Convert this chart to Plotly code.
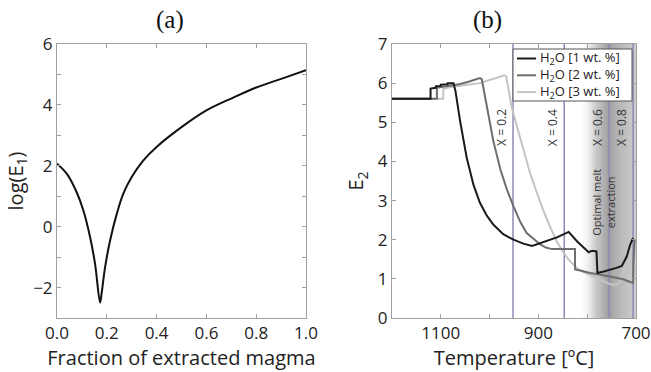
import plotly.graph_objects as go

# ---------------- data: panel (a) ----------------
frac_extracted = [0.0, 0.039, 0.079, 0.106, 0.133, 0.153, 0.173, 0.179, 0.193, 0.213, 0.24,
                  0.266, 0.3, 0.347, 0.4, 0.5, 0.6, 0.708, 0.8, 0.909, 1.0]
log_E1 = [2.07, 1.74, 1.13, 0.53, -0.35, -1.23, -2.49, -2.2, -1.34, -0.46, 0.42,
          1.08, 1.63, 2.18, 2.62, 3.27, 3.82, 4.24, 4.57, 4.88, 5.14]

# ---------------- data: panel (b) ----------------
temp_1wt = [1200, 1121, 1121, 1110, 1110, 1100, 1100, 1086, 1086, 1074, 1070, 1060, 1047, 1033,
            1020, 1006, 992, 972, 951, 931, 913, 890, 862, 838, 821, 797, 790, 781, 779, 766,
            753, 740, 729, 719, 712, 706]
E2_1wt = [5.6, 5.6, 5.86, 5.88, 5.92, 5.93, 5.96, 5.97, 6.0, 6.0, 5.8, 5.0, 4.1, 3.4,
          2.95, 2.62, 2.38, 2.14, 2.0, 1.9, 1.84, 1.93, 2.06, 2.2, 1.96, 1.68, 1.72, 1.70, 1.15, 1.19,
          1.23, 1.28, 1.33, 1.57, 1.87, 2.05]

temp_2wt = [1200, 1108, 1108, 1090, 1060, 1040, 1020, 1016, 1013, 1006, 992, 978, 965, 951,
            937, 924, 910, 896, 885, 872, 825, 825, 810, 794, 770, 753, 726, 712, 706, 705, 703]
E2_2wt = [5.6, 5.6, 5.88, 5.92, 5.98, 6.05, 6.13, 6.1, 5.9, 5.35, 4.5, 3.8, 3.3, 2.85,
          2.45, 2.17, 2.02, 1.88, 1.8, 1.76, 1.76, 1.24, 1.2, 1.15, 1.1, 1.06, 0.99, 0.92, 0.9, 1.5, 2.0]

temp_3wt = [1200, 1095, 1095, 1080, 1050, 1020, 1000, 985, 970, 966, 962, 955, 944, 930, 917,
            903, 890, 876, 862, 852, 838, 821, 808, 794, 780, 766, 753, 745, 736, 729, 722, 719]
E2_3wt = [5.6, 5.6, 5.85, 5.9, 5.95, 6.0, 6.08, 6.15, 6.2, 6.18, 5.9, 5.4, 4.9, 4.25, 3.7,
          3.2, 2.75, 2.33, 1.95, 1.74, 1.49, 1.27, 1.17, 1.1, 1.02, 0.93, 0.86, 0.85, 0.87, 1.06, 1.36, 1.47]

series_names = ["H<sub>2</sub>O [1 wt. %]", "H<sub>2</sub>O [2 wt. %]", "H<sub>2</sub>O [3 wt. %]"]
series_colors = ["#1a1a1a", "#6e6e6e", "#c4c4c4"]

x_fraction_temps = [952, 847, 755, 706]
x_fraction_labels = ["X = 0.2", "X = 0.4", "X = 0.6", "X = 0.8"]
optimal_band = [812, 755, 700]   # left edge, darkest, right edge (°C)

# ---------------- figure ----------------
W, H = 651, 372
def px_x(p): return p / W
def px_y(p): return 1 - p / H

fig = go.Figure()

fig.add_trace(go.Scatter(x=frac_extracted, y=log_E1, mode="lines", line=dict(color="#111", width=2),
                         line_shape="spline", xaxis="x", yaxis="y", showlegend=False))

series = [(temp_3wt, E2_3wt, 2), (temp_2wt, E2_2wt, 1), (temp_1wt, E2_1wt, 0)]
for t, e, i in series:
    fig.add_trace(go.Scatter(x=t, y=e, mode="lines", line=dict(color=series_colors[i], width=2),
                             xaxis="x2", yaxis="y2", showlegend=False, name=series_names[i]))

font_tick = dict(family="Open Sans", size=17, color="#222")
font_title = dict(family="Open Sans", size=20, color="#222")
axis_common = dict(showline=True, linecolor="#a0a0a0", linewidth=1, mirror="ticks", ticks="inside",
                   ticklen=4, tickcolor="#a0a0a0", showgrid=False, zeroline=False, tickfont=font_tick,
                   automargin=False, ticklabeloverflow="allow")

ydom = [px_y(318), px_y(44)]
fig.update_layout(
    template="none",
    width=W, height=H, margin=dict(l=0, r=0, t=0, b=0, autoexpand=False),
    paper_bgcolor="white", plot_bgcolor="white", showlegend=False,
    xaxis=dict(domain=[px_x(57), px_x(306)], range=[0, 1], tickvals=[0, 0.2, 0.4, 0.6, 0.8, 1.0],
               tickformat=".1f", title=dict(text="Fraction of extracted magma", font=font_title, standoff=0),
               anchor="y", **axis_common),
    yaxis=dict(domain=ydom, range=[-3, 6], tickvals=[-2, 0, 2, 4, 6],
               minor=dict(tickvals=[-3, -1, 1, 3, 5], ticks="inside", ticklen=4, tickcolor="#a0a0a0"),
               title=dict(text="log(E<sub>1</sub>)", font=font_title, standoff=4), anchor="x", **axis_common),
    xaxis2=dict(domain=[px_x(392), px_x(636)], range=[1200, 700], tickvals=[1100, 900, 700],
                minor=dict(tickvals=[1000, 800], ticks="inside", ticklen=4, tickcolor="#a0a0a0"),
                title=dict(text="Temperature [ºC]", font=font_title, standoff=0), anchor="y2", **axis_common),
    yaxis2=dict(domain=ydom, range=[0, 7], dtick=1, anchor="x2",
                title=dict(text="E<sub>2</sub>", font=font_title, standoff=8), **axis_common),
)

# gradient band "optimal melt extraction"
left, peak, right = optimal_band
shapes = []
t = left
step = 2
while t > right:
    t2 = t - step
    mid = t - step / 2
    if mid >= peak:
        f = (left - mid) / (left - peak)
        g = 255 - 125 * f ** 1.3
    else:
        f = (peak - mid) / (peak - right)
        g = 130 + 75 * f
    g = int(round(g))
    shapes.append(dict(type="rect", xref="x2", yref="y2 domain", x0=t, x1=t2, y0=0, y1=1,
                       fillcolor=f"rgb({g},{g},{g})", line=dict(width=0), layer="below"))
    t = t2

for xt in x_fraction_temps:
    shapes.append(dict(type="line", xref="x2", yref="y2 domain", x0=xt, x1=xt, y0=0, y1=1,
                       line=dict(color="#8a8ab4", width=1.5), layer="below"))

# legend box (manual, tight spacing as in the original)
def dx(p): return (p - 392) / 244
def dy(p): return (318 - p) / 274
shapes.append(dict(type="rect", xref="x2 domain", yref="y2 domain", x0=dx(513), x1=dx(632),
                   y0=dy(101), y1=dy(49), fillcolor="white", line=dict(color="#555", width=1),
                   layer="above"))
rows_py = [58.5, 75.3, 92.1]
annotations = []
for i, py in enumerate(rows_py):
    shapes.append(dict(type="line", xref="x2 domain", yref="y2 domain",
                       x0=dx(517), x1=dx(536), y0=dy(py), y1=dy(py),
                       line=dict(color=series_colors[i], width=2), layer="above"))
annotations.append(dict(xref="x2 domain", yref="y2 domain", x=dx(538), y=dy(75.3),
                        xanchor="left", yanchor="middle", align="left", showarrow=False,
                        text="<br>".join(series_names),
                        font=dict(family="Open Sans", size=13, color="#222")))

for xt, lab in zip(x_fraction_temps, x_fraction_labels):
    annotations.append(dict(xref="x2", yref="y2", x=xt, y=4.87, xanchor="right", yanchor="middle",
                            xshift=-1, showarrow=False, text=lab, textangle=-90,
                            font=dict(family="Open Sans", size=12, color="#333")))

annotations.append(dict(xref="x2", yref="y2", x=767, y=2.95, showarrow=False,
                        xanchor="center", yanchor="middle",
                        text="Optimal melt<br>extraction", textangle=-90,
                        font=dict(family="Open Sans", size=11, color="#333")))

annotations.append(dict(xref="paper", yref="paper", x=px_x(170), y=px_y(20), showarrow=False,
                        xanchor="center", yanchor="middle",
                        text="(a)", font=dict(family="Liberation Serif", size=25, color="#111")))
annotations.append(dict(xref="paper", yref="paper", x=px_x(487), y=px_y(20), showarrow=False,
                        xanchor="center", yanchor="middle",
                        text="(b)", font=dict(family="Liberation Serif", size=25, color="#111")))

fig.update_layout(shapes=shapes, annotations=annotations)
fig.write_html("out.html", config={"displayModeBar": False},
               post_script="document.body.style.margin='0px';document.body.style.overflow='hidden';")
